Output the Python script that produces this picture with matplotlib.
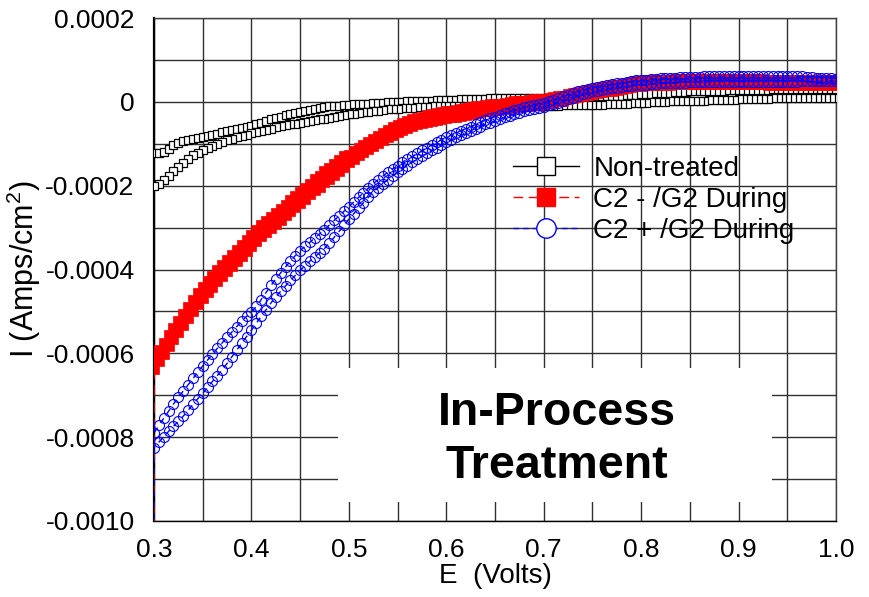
import numpy as np
import matplotlib
matplotlib.use('Agg')
import matplotlib.pyplot as plt
from matplotlib.lines import Line2D
from matplotlib.patches import Rectangle

plt.rcParams.update({'font.family': ['Liberation Sans', 'DejaVu Sans'],
                     'font.size': 19,
                     'mathtext.fontset': 'custom',
                     'mathtext.rm': 'Liberation Sans',
                     'mathtext.it': 'Liberation Sans:italic'})

# potential sweep (V)
E = [0.300, 0.305, 0.310, 0.315, 0.320, 0.325, 0.330, 0.335, 0.340, 0.345,
     0.350, 0.355, 0.360, 0.365, 0.370, 0.375, 0.380, 0.385, 0.390, 0.395,
     0.400, 0.405, 0.410, 0.415, 0.420, 0.425, 0.430, 0.435, 0.440, 0.445,
     0.450, 0.455, 0.460, 0.465, 0.470, 0.475, 0.480, 0.485, 0.490, 0.495,
     0.500, 0.505, 0.510, 0.515, 0.520, 0.525, 0.530, 0.535, 0.540, 0.545,
     0.550, 0.555, 0.560, 0.565, 0.570, 0.575, 0.580, 0.585, 0.590, 0.595,
     0.600, 0.605, 0.610, 0.615, 0.620, 0.625, 0.630, 0.635, 0.640, 0.645,
     0.650, 0.655, 0.660, 0.665, 0.670, 0.675, 0.680, 0.685, 0.690, 0.695,
     0.700, 0.705, 0.710, 0.715, 0.720, 0.725, 0.730, 0.735, 0.740, 0.745,
     0.750, 0.755, 0.760, 0.765, 0.770, 0.775, 0.780, 0.785, 0.790, 0.795,
     0.800, 0.805, 0.810, 0.815, 0.820, 0.825, 0.830, 0.835, 0.840, 0.845,
     0.850, 0.855, 0.860, 0.865, 0.870, 0.875, 0.880, 0.885, 0.890, 0.895,
     0.900, 0.905, 0.910, 0.915, 0.920, 0.925, 0.930, 0.935, 0.940, 0.945,
     0.950, 0.955, 0.960, 0.965, 0.970, 0.975, 0.980, 0.985, 0.990, 0.995,
     1.000]

# currents in uA/cm2, forward (a) and return (b) branches
nt_a = [-122, -122, -120, -112, -104, -98, -94, -92, -89, -86,
        -84, -82, -79, -76, -72, -70, -67, -64, -62, -60,
        -58, -54, -50, -46, -42, -38, -35, -32, -28, -26,
        -24, -21, -19, -17, -15, -13, -11, -10, -9, -8,
        -7, -6, -5, -4, -4, -3, -2, -2, -1, -1,
        0, 0, 1, 1, 2, 2, 3, 3, 4, 4,
        5, 5, 5, 6, 6, 6, 7, 7, 7, 8,
        8, 8, 8, 9, 9, 9, 9, 10, 10, 10,
        10, 10, 10, 11, 11, 11, 11, 12, 12, 12,
        12, 13, 13, 14, 14, 15, 15, 16, 17, 17,
        18, 19, 19, 20, 21, 21, 22, 23, 24, 24,
        25, 25, 26, 26, 26, 27, 27, 27, 28, 28,
        28, 28, 29, 29, 29, 29, 29, 30, 30, 30,
        30, 30, 30, 30, 30, 30, 30, 30, 30, 30,
        30]
nt_b = [-200, -195, -186, -176, -166, -156, -146, -136, -128, -121,
        -115, -110, -105, -100, -96, -92, -88, -84, -81, -78,
        -75, -72, -70, -67, -64, -61, -58, -56, -54, -52,
        -50, -48, -46, -44, -42, -40, -38, -36, -34, -32,
        -30, -28, -27, -25, -24, -22, -21, -19, -18, -17,
        -16, -15, -14, -14, -13, -12, -12, -11, -11, -10,
        -10, -10, -10, -10, -10, -10, -10, -10, -10, -10,
        -10, -10, -9, -9, -9, -9, -9, -9, -9, -9,
        -9, -9, -9, -9, -8, -8, -8, -8, -8, -8,
        -8, -7, -7, -6, -6, -5, -5, -4, -3, -3,
        -2, -2, -1, -1, 0, 0, 1, 1, 1, 2,
        2, 2, 3, 3, 4, 4, 4, 5, 5, 5,
        6, 6, 6, 7, 7, 7, 7, 8, 8, 8,
        8, 8, 9, 9, 9, 9, 10, 10, 10, 10,
        10]

c2m_a = [-612, -593, -575, -557, -540, -523, -506, -489, -473, -457,
         -442, -428, -415, -402, -389, -377, -365, -353, -341, -329,
         -317, -306, -295, -285, -275, -265, -255, -245, -235, -225,
         -215, -205, -195, -185, -176, -166, -157, -148, -139, -130,
         -126, -118, -110, -102, -95, -88, -81, -74, -67, -61,
         -56, -51, -46, -42, -38, -35, -32, -29, -27, -25,
         -23, -21, -19, -17, -15, -13, -11, -9, -7, -6,
         -5, -4, -2, -1, 1, 2, 3, 5, 6, 7,
         7, 9, 11, 13, 15, 18, 20, 23, 25, 28,
         30, 33, 35, 37, 39, 41, 43, 45, 47, 49,
         50, 51, 52, 52, 53, 53, 53, 54, 54, 54,
         54, 54, 54, 54, 54, 54, 54, 54, 54, 54,
         54, 54, 54, 54, 54, 54, 53, 53, 53, 53,
         53, 53, 53, 52, 52, 52, 52, 51, 51, 51,
         51]
c2m_b = [-638, -619, -601, -583, -566, -549, -532, -515, -499, -483,
         -468, -454, -441, -428, -415, -403, -391, -379, -367, -355,
         -343, -332, -321, -311, -301, -291, -281, -271, -261, -251,
         -241, -231, -221, -211, -202, -192, -183, -174, -165, -156,
         -144, -136, -128, -120, -113, -106, -99, -92, -85, -79,
         -72, -67, -62, -58, -54, -51, -48, -45, -43, -41,
         -39, -37, -35, -33, -31, -29, -27, -25, -23, -22,
         -19, -18, -16, -15, -13, -12, -11, -9, -8, -7,
         -5, -3, -1, 1, 3, 6, 8, 11, 13, 16,
         18, 21, 23, 25, 27, 29, 31, 33, 35, 37,
         38, 39, 40, 40, 41, 41, 41, 42, 42, 42,
         42, 42, 42, 42, 42, 42, 42, 42, 42, 42,
         42, 42, 42, 42, 42, 42, 41, 41, 41, 41,
         41, 41, 41, 40, 40, 40, 40, 39, 39, 39,
         39]

c2p_a = [-790, -772, -755, -738, -721, -705, -690, -675, -660, -645,
         -630, -616, -602, -588, -575, -562, -549, -536, -523, -512,
         -502, -488, -472, -455, -438, -423, -408, -394, -380, -367,
         -355, -345, -335, -325, -315, -305, -294, -283, -272, -261,
         -250, -239, -228, -217, -206, -195, -186, -177, -168, -160,
         -152, -144, -137, -130, -123, -116, -109, -102, -96, -90,
         -85, -79, -74, -69, -64, -59, -54, -49, -44, -39,
         -35, -31, -27, -24, -20, -17, -13, -10, -7, -4,
         -2, 2, 5, 9, 13, 17, 21, 25, 28, 31,
         34, 36, 38, 40, 42, 44, 46, 48, 49, 51,
         52, 53, 54, 55, 56, 57, 58, 58, 59, 59,
         60, 60, 60, 61, 61, 61, 61, 61, 62, 62,
         62, 62, 62, 62, 62, 62, 62, 62, 62, 62,
         62, 62, 61, 61, 60, 59, 58, 57, 56, 56,
         55]
c2p_b = [-825, -812, -799, -786, -774, -762, -750, -736, -722, -708,
         -695, -681, -667, -653, -639, -624, -608, -592, -576, -560,
         -545, -528, -512, -496, -480, -465, -452, -439, -426, -414,
         -402, -391, -380, -370, -360, -350, -337, -323, -309, -295,
         -280, -267, -254, -241, -228, -215, -205, -195, -186, -177,
         -168, -160, -152, -144, -137, -130, -123, -116, -109, -103,
         -97, -91, -85, -80, -75, -69, -64, -59, -54, -50,
         -45, -41, -37, -33, -30, -26, -23, -20, -17, -14,
         -12, -8, -5, -2, 2, 6, 10, 14, 18, 22,
         25, 27, 29, 31, 33, 34, 35, 37, 38, 39,
         40, 41, 42, 43, 44, 44, 45, 45, 46, 46,
         47, 47, 47, 47, 47, 48, 48, 48, 48, 48,
         48, 48, 48, 48, 48, 48, 48, 48, 48, 48,
         48, 48, 48, 49, 49, 49, 49, 50, 50, 50,
         50]

# first reading of the treated scans lies below the axis range
start_red = -1100
start_blue = -1100

labels = ['Non-treated', 'C2 - /G2 During', 'C2 + /G2 During']
x_ticklabels = ['0.3', '0.4', '0.5', '0.6', '0.7', '0.8', '0.9', '1.0']
y_ticklabels = ['-0.0010', '-0.0008', '-0.0006', '-0.0004', '-0.0002', '0', '0.0002']


def scan(fwd, rev, start=None):
    x = list(E) + list(E[::-1])
    y = list(fwd) + list(rev[::-1])
    if start is not None:
        x = [E[0]] + x
        y = [start] + y
    return np.array(x), np.array(y) * 1e-6


fig = plt.figure(figsize=(8.69, 5.97), dpi=100)
ax = fig.add_axes([154/869, 1-521/597, 682/869, 503/597])

x, y = scan(nt_a, nt_b)
ax.plot(x, y, color='black', lw=1, marker='s', ms=5.8, mfc='white',
        mec='black', mew=0.9, zorder=3)
x, y = scan(c2m_a, c2m_b, start_red)
ax.plot(x, y, color='red', lw=1, ls=(0, (8, 4)), marker='s', ms=7.2,
        mfc='red', mec='red', mew=0.5, zorder=4)
x, y = scan(c2p_b, c2p_a, start_blue)
ax.plot(x, y, color='blue', lw=1, ls=(0, (4, 4)), marker='o', ms=7.2,
        mfc='none', mec='blue', mew=0.8, zorder=5)

ax.set_xlim(0.3, 1.0)
ax.set_ylim(-0.0010, 0.0002)
ax.set_xticks(np.arange(0.3, 1.001, 0.1))
ax.set_xticks(np.arange(0.35, 1.0, 0.1), minor=True)
ax.set_xticklabels(x_ticklabels)
ax.set_yticks(np.arange(-0.0010, 0.00021, 0.0002))
ax.set_yticks(np.arange(-0.0009, 0.0002, 0.0002), minor=True)
ax.set_yticklabels(y_ticklabels)
ax.tick_params(which='both', length=0)
ax.tick_params(axis='y', pad=14)
ax.tick_params(axis='x', pad=12)
ax.grid(which='both', color='#303030', lw=1.0)
ax.set_axisbelow(True)
for s in ax.spines.values():
    s.set_color('#404040')
    s.set_linewidth(1.0)
ax.spines['left'].set_color('black')
ax.spines['left'].set_linewidth(1.6)
ax.spines['bottom'].set_color('black')

ax.set_xlabel('E  (Volts)', fontsize=20, labelpad=1)
ax.set_ylabel(r'I (Amps/cm$^{2}$)', fontsize=22, labelpad=2)

# white panel with the treatment caption
ax.add_patch(Rectangle((0.489, -0.000955), 0.445, 0.000321,
                       facecolor='white', edgecolor='none', zorder=1.5))
ax.text(0.713, -0.000805, 'In-Process\nTreatment', ha='center', va='center',
        fontsize=33.5, fontweight='bold', linespacing=1.27, zorder=6)

handles = [
    Line2D([], [], color='black', lw=1, marker='s', ms=13, mfc='white', mec='black', mew=1),
    Line2D([], [], color='red', lw=1, ls=(0, (7, 4)), marker='s', ms=13, mfc='red', mec='red'),
    Line2D([], [], color='blue', lw=1, ls=(0, (4, 3)), marker='o', ms=14, mfc='white', mec='blue'),
]
ax.legend(handles, labels, loc='upper left', bbox_to_anchor=(0.526, 0.726),
          frameon=False, fontsize=20, handlelength=2.4, handletextpad=0.5,
          labelspacing=0.18, borderpad=0, borderaxespad=0)

fig.savefig('out.png', dpi=100)
